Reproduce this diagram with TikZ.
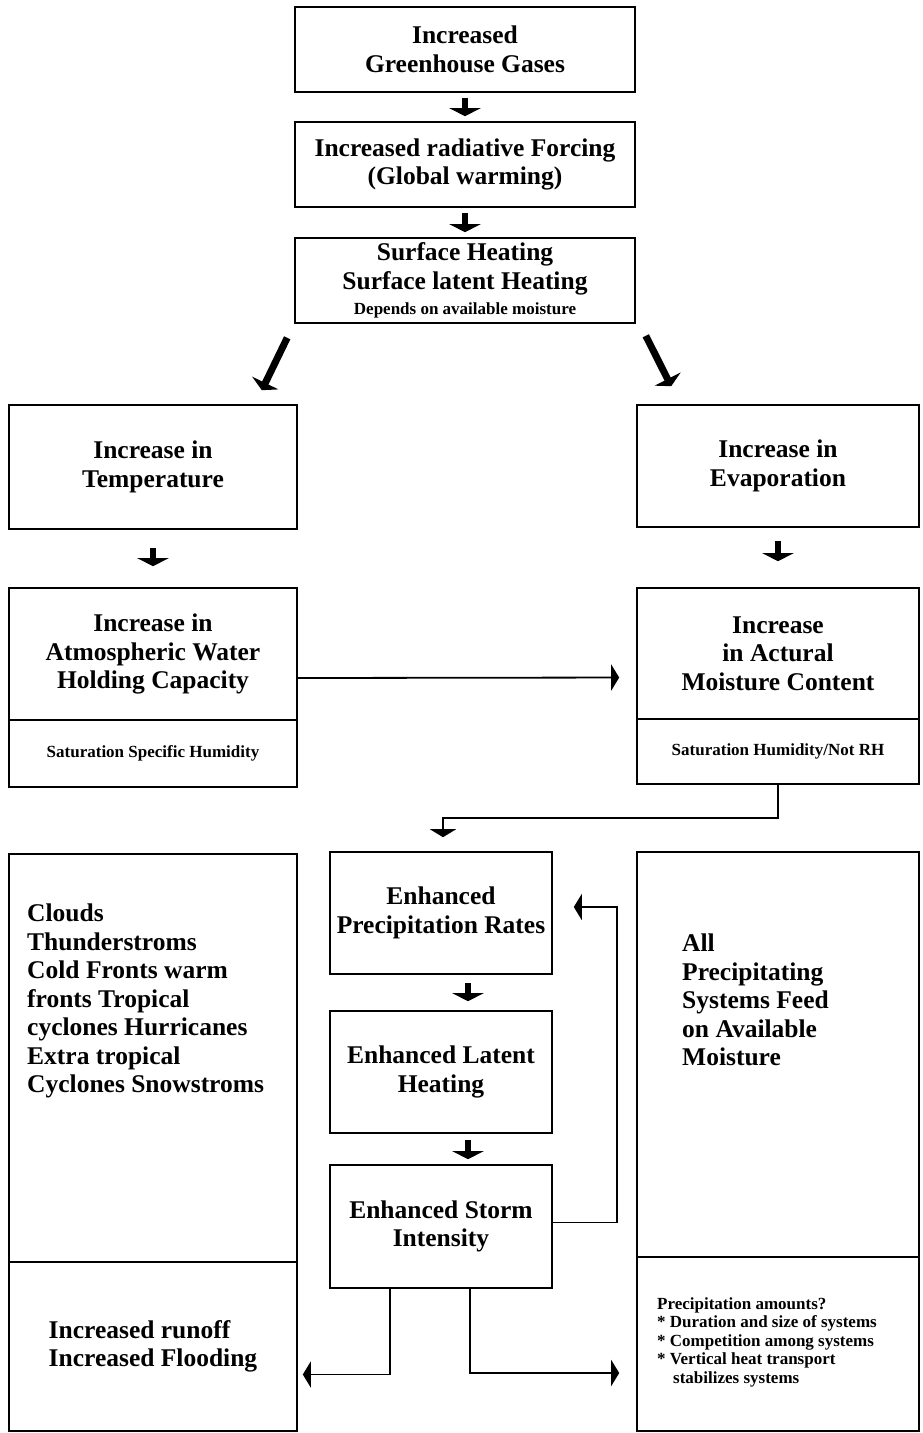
\documentclass[tikz,border=0pt]{standalone}
\usepackage{fontspec}
\setmainfont{Liberation Serif}
\usetikzlibrary{arrows.meta}

\tikzset{
  box/.style={draw, line width=1.6pt, align=center, inner sep=0pt,
    font=\bfseries\fontsize{25.5}{28.5}\selectfont},
  note/.style={font=\bfseries\fontsize{17}{18.5}\selectfont},
  listtext/.style={align=left, anchor=north west, inner sep=0pt,
    font=\bfseries\fontsize{25.5}{28.5}\selectfont},
  fatarrow/.style={line width=5.5pt, -{Triangle[width=31pt,length=8pt]}},
  slantarrow/.style={line width=7pt, -{Triangle[width=29pt,length=8pt]}},
  thinarrow/.style={line width=1.8pt, -{Triangle[width=26pt,length=8pt]}},
}

\begin{document}
\begin{tikzpicture}[x=1pt,y=-1pt]
  \useasboundingbox (0,0) rectangle (923,1433);

  % top chain
  \node[box, minimum width=340pt, minimum height=85pt] (ghg) at (465,49.5) {Increased\\Greenhouse Gases};
  \node[box, minimum width=340pt, minimum height=85pt] (forcing) at (465,164.5) {Increased radiative Forcing\\(Global warming)};
  \node[box, minimum width=340pt, minimum height=85pt] (heat) at (465,280.5)
    {Surface Heating\\Surface latent Heating\\[-3pt]{\fontsize{17}{18}\selectfont Depends on available moisture}};
  \draw[fatarrow, shorten <=5pt, shorten >=5pt] (ghg.south) -- (forcing.north);
  \draw[fatarrow, shorten <=5pt, shorten >=5pt] (forcing.south) -- (heat.north);

  % two branches
  \node[box, minimum width=288pt, minimum height=124pt] (temp) at (153,467) {Increase in\\Temperature};
  \node[box, minimum width=282pt, minimum height=122pt] (evap) at (778,466) {Increase in\\Evaporation};
  \draw[slantarrow] ([shift={(-7,14)}]heat.south west) -- ([shift={(-36,-14)}]temp.north east);
  \draw[slantarrow] ([shift={(10,12)}]heat.south east) -- ([shift={(35,-18)}]evap.north west);

  \node[box, minimum width=288pt, minimum height=132pt] (capacity) at (153,654) {Increase in\\Atmospheric Water\\Holding Capacity};
  \node[box, note, minimum width=288pt, minimum height=67pt] (satspec) at (153,753.5) {Saturation Specific Humidity};
  \node[box, minimum width=282pt, minimum height=131pt] (moisture) at (778,653.5) {Increase\\in Actural\\Moisture Content};
  \node[box, note, minimum width=282pt, minimum height=65pt] (sathum) at (778,751.5) {Saturation Humidity/Not RH};
  \draw[fatarrow, shorten <=18pt, shorten >=21pt] (temp.south) -- (capacity.north);
  \draw[fatarrow, shorten <=13pt, shorten >=26pt] (evap.south) -- (moisture.north);
  \draw[thinarrow, shorten >=17pt] ([shift={(0,24)}]capacity.east) -- ([shift={(0,24)}]moisture.west);

  % middle column
  \node[box, minimum width=222pt, minimum height=122pt] (precip) at (441,913) {Enhanced\\Precipitation Rates};
  \node[box, minimum width=222pt, minimum height=122pt] (latent) at (441,1072) {Enhanced Latent\\Heating};
  \node[box, minimum width=222pt, minimum height=123pt] (storm) at (441,1226.5) {Enhanced Storm\\Intensity};
  \draw[fatarrow, shorten <=8pt, shorten >=9pt] ([shift={(27,0)}]precip.south) -- ([shift={(27,0)}]latent.north);
  \draw[fatarrow, shorten <=6pt, shorten >=5pt] ([shift={(27,0)}]latent.south) -- ([shift={(27,0)}]storm.north);
  \draw[thinarrow] (sathum.south) -- ++(0,33) -| ([shift={(2,-14)}]precip.north);
  \draw[thinarrow] ([shift={(0,-4)}]storm.east) -- ++(64,0) |- ([shift={(21,-6)}]precip.east);

  % side columns
  \node[box, minimum width=288pt, minimum height=408pt] (systems) at (153,1058) {};
  \node[listtext] (systemlist) at (27,904) {Clouds\\Thunderstroms\\Cold Fronts warm\\fronts Tropical\\cyclones Hurricanes\\Extra tropical\\Cyclones Snowstroms};
  \node[box, align=left, minimum width=288pt, minimum height=169pt] (runoff) at (153,1346.5) {Increased runoff\\Increased Flooding};
  \node[box, minimum width=282pt, minimum height=405pt] (feed) at (778,1054.5) {};
  \node[listtext] (feedlist) at (682,934) {All\\Precipitating\\Systems Feed\\on Available\\Moisture};
  \node[box, minimum width=282pt, minimum height=174pt] (amounts) at (778,1344) {};
  \node[listtext, note] (amountlist) at (657,1297) {Precipitation amounts?\\* Duration and size of systems\\* Competition among systems\\* Vertical heat transport\\\hspace*{16pt}stabilizes systems};
  \draw[thinarrow] ([shift={(-51,0)}]storm.south) |- ([shift={(5,28)}]runoff.east);
  \draw[thinarrow] ([shift={(29,0)}]storm.south) |- ([shift={(-17,29)}]amounts.west);
\end{tikzpicture}
\end{document}
